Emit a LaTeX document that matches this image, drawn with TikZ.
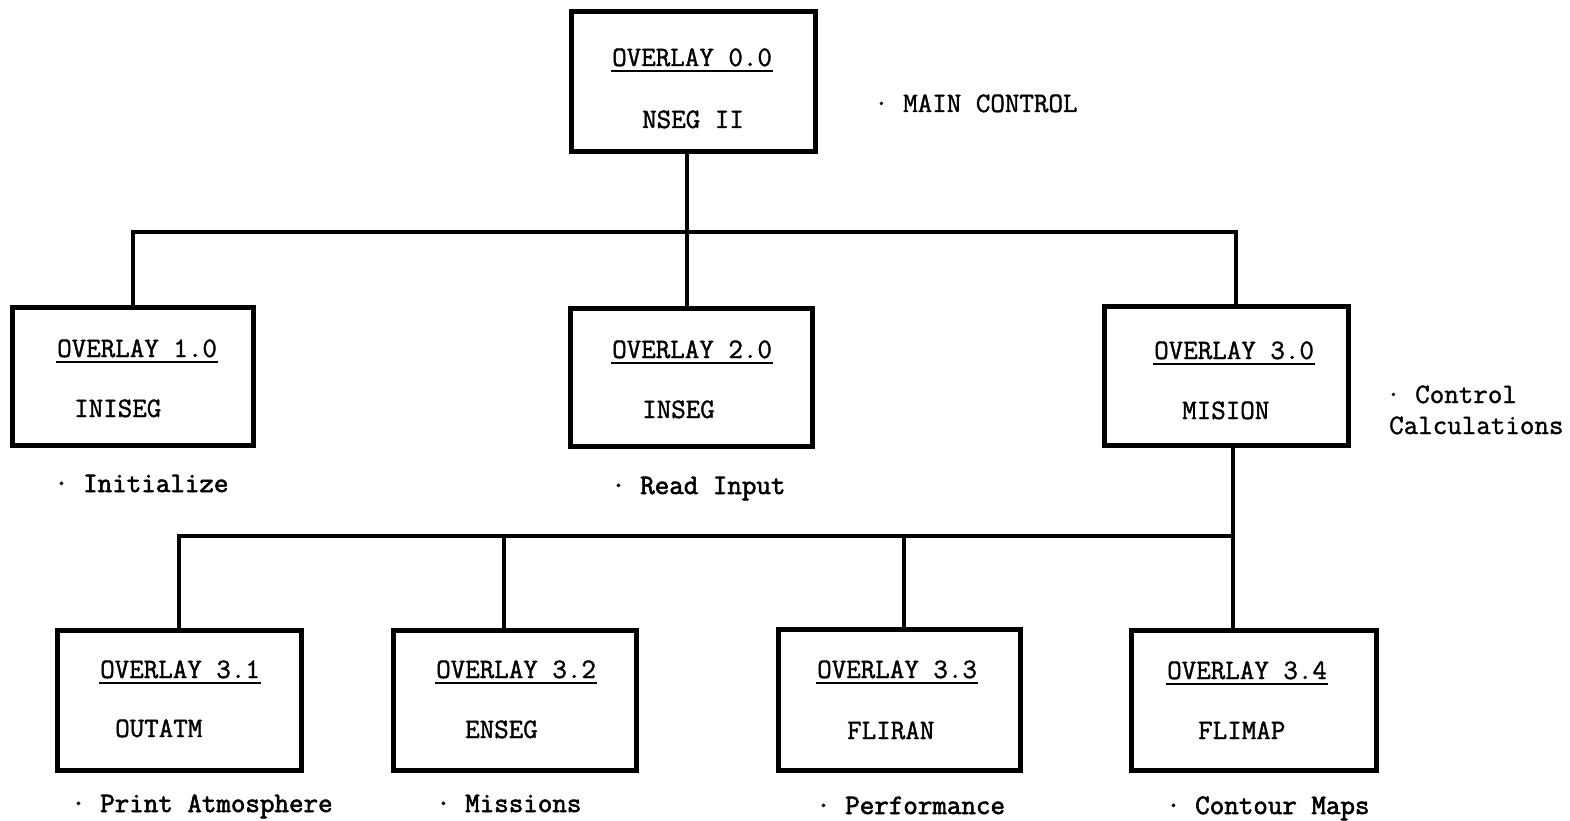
\documentclass[tikz,border=0pt]{standalone}
\usepackage{fontspec}
\setmonofont[FakeBold=1.3]{Latin Modern Mono}
\newfontfamily\lblfont[FakeBold=2.2]{Latin Modern Mono}
\begin{document}
\begin{tikzpicture}[x=1pt,y=-1pt,
  box/.style={draw=black,line width=5pt,rectangle,inner sep=0pt,fill=none},
  conn/.style={draw=black,line width=4pt},
  txt/.style={font=\fontsize{28.2}{30}\selectfont\ttfamily,inner sep=0pt,anchor=base west},
  lbl/.style={font=\fontsize{28.2}{30}\selectfont\lblfont,inner sep=0pt,anchor=base west},
  ul/.style={draw=black,line width=2pt}]
\useasboundingbox (0,0) rectangle (1570,821);
% boxes
\node[box,minimum width=244pt,minimum height=140pt] (b0) at (693,82) {};
\node[box,minimum width=241pt,minimum height=138pt] (b1) at (132.5,376) {};
\node[box,minimum width=242pt,minimum height=138pt] (b2) at (691,377) {};
\node[box,minimum width=244pt,minimum height=139pt] (b3) at (1226,375.5) {};
\node[box,minimum width=244pt,minimum height=140pt] (b31) at (179,700) {};
\node[box,minimum width=243pt,minimum height=140pt] (b32) at (514.5,700) {};
\node[box,minimum width=242pt,minimum height=141pt] (b33) at (899,699.5) {};
\node[box,minimum width=245pt,minimum height=140pt] (b34) at (1253.5,700) {};
% texts in boxes
\node[txt] (o0) at (612,66) {OVERLAY 0.0};
\node[txt] (n0) at (642,128) {NSEG II};
\node[txt] (o1) at (57,357) {OVERLAY 1.0};
\node[txt] (n1) at (74,417) {INISEG};
\node[txt] (o2) at (612,358) {OVERLAY 2.0};
\node[txt] (n2) at (642,418) {INSEG};
\node[txt] (o3) at (1154,359) {OVERLAY 3.0};
\node[txt] (n3) at (1182,419) {MISION};
\node[txt] (o31) at (100,678) {OVERLAY 3.1};
\node[txt] (n31) at (115,737) {OUTATM};
\node[txt] (o32) at (436,678) {OVERLAY 3.2};
\node[txt] (n32) at (465,738) {ENSEG};
\node[txt] (o33) at (817,678) {OVERLAY 3.3};
\node[txt] (n33) at (847,739) {FLIRAN};
\node[txt] (o34) at (1167,679) {OVERLAY 3.4};
\node[txt] (n34) at (1198,739) {FLIMAP};
% underlines
\foreach \n in {o0,o1,o2,o3,o31,o32,o33,o34}
  \draw[ul] ([xshift=-1pt,yshift=-5pt]\n.base west) -- ([xshift=1pt,yshift=-5pt]\n.base east);
% side labels
\node[txt] (l0) at (874,112) {· MAIN CONTROL};
\node[lbl] (l1) at (54,492) {· Initialize};
\node[lbl] (l2) at (611,494) {· Read Input};
\node[txt] (l3a) at (1386,403) {· Control};
\node[txt] (l3b) at (1389,434) {Calculations};
\node[lbl] (l31) at (71,812) {· Print Atmosphere};
\node[lbl] (l32) at (436,812) {· Missions};
\node[lbl] (l33) at (816,814) {· Performance};
\node[lbl] (l34) at (1166,814) {· Contour Maps};
% connectors level 1
\coordinate (j0) at (687,232);
\coordinate (jL) at (133,232);
\coordinate (jR) at (1236,232);
\draw[conn] (b0.south -| j0) -- (j0);
\draw[conn,line cap=rect] (jL) -- (jR);
\draw[conn] (jL) -- (b1.north -| jL);
\draw[conn] (j0) -- (b2.north -| j0);
\draw[conn] (jR) -- (b3.north -| jR);
% connectors level 2
\coordinate (k0) at (1233,536);
\coordinate (k1) at (179,536);
\coordinate (k2) at (504,536);
\coordinate (k3) at (904,536);
\draw[conn] (b3.south -| k0) -- (k0);
\draw[conn,line cap=rect] (k1) -- (k0);
\draw[conn] (k1) -- (b31.north -| k1);
\draw[conn] (k2) -- (b32.north -| k2);
\draw[conn] (k3) -- (b33.north -| k3);
\draw[conn] (k0) -- (b34.north -| k0);
\end{tikzpicture}
\end{document}
